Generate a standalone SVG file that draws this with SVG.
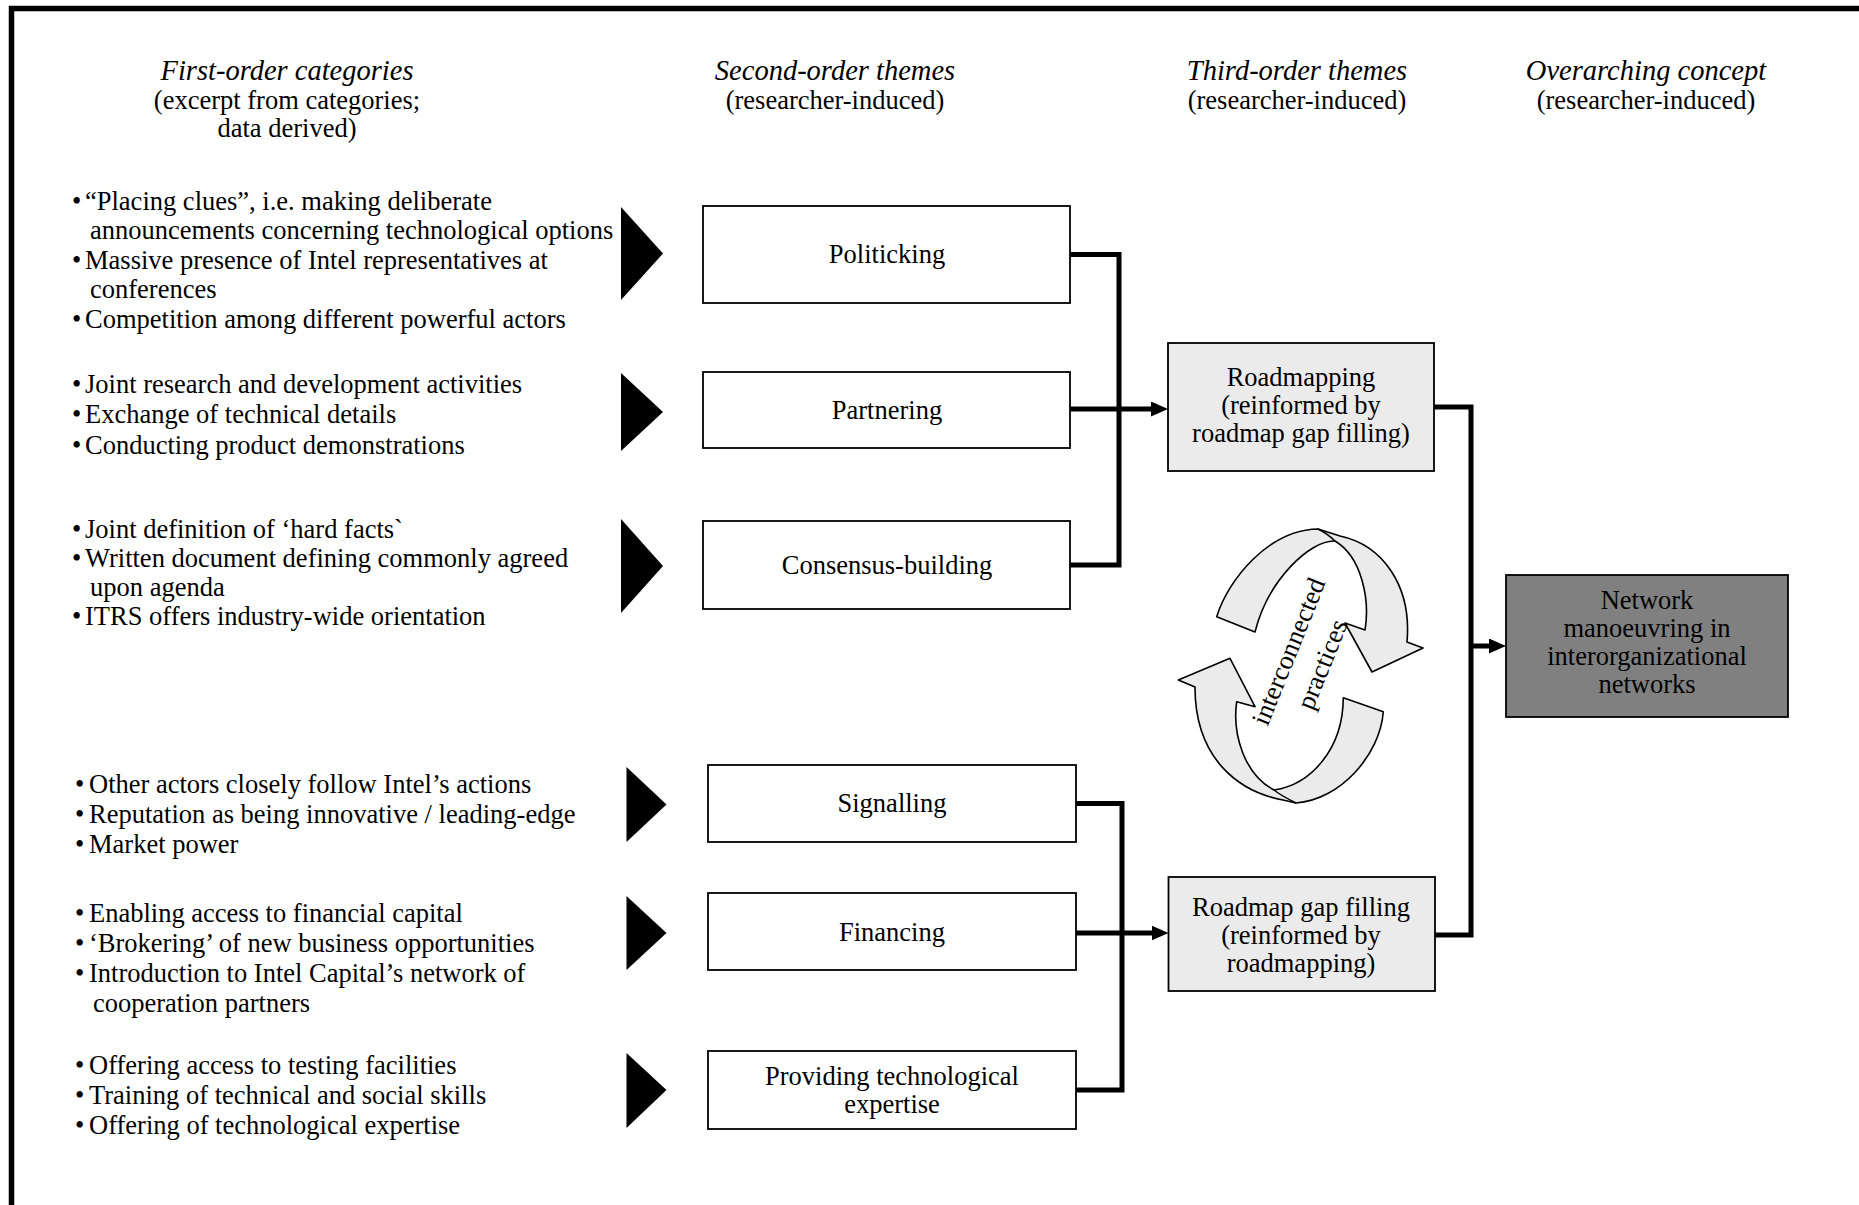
<svg xmlns="http://www.w3.org/2000/svg" width="1859" height="1205" viewBox="0 0 1859 1205">
<style>
.t{font-family:"Liberation Serif","Times New Roman",serif;font-size:26.5px;fill:#000}
.i{font-style:italic;font-size:28.5px}
.c{text-anchor:middle}
.box{fill:#fff;stroke:#000;stroke-width:1.8}
.grey{fill:#ebebeb;stroke:#000;stroke-width:1.8}
.dark{fill:#808080;stroke:#000;stroke-width:1.8}
.conn{fill:none;stroke:#000;stroke-width:5;stroke-linejoin:miter;stroke-linecap:butt}
.tri{fill:#000}
.cyc{fill:#ebebeb;stroke:#000;stroke-width:1.6;stroke-linejoin:round}
.fold{fill:none;stroke:#000;stroke-width:1.4}
</style>
<defs>
<marker id="ah" markerUnits="userSpaceOnUse" markerWidth="18" markerHeight="16" refX="9" refY="7.5" orient="auto">
<path d="M0,0 L17,7.5 L0,15 Z" fill="#000"/>
</marker>
</defs>
<rect width="1859" height="1205" fill="#fff"/>
<path d="M11.5 1210 V8.5 H1865" fill="none" stroke="#000" stroke-width="5.5"/>

<g id="headers">
<text class="t i c" x="287" y="80">First-order categories</text>
<text class="t c" x="287" y="109">(excerpt from categories;</text>
<text class="t c" x="287" y="137">data derived)</text>
<text class="t i c" x="835" y="80">Second-order themes</text>
<text class="t c" x="835" y="109">(researcher-induced)</text>
<text class="t i c" x="1297" y="80">Third-order themes</text>
<text class="t c" x="1297" y="109">(researcher-induced)</text>
<text class="t i c" x="1646" y="80">Overarching concept</text>
<text class="t c" x="1646" y="109">(researcher-induced)</text>
</g>

<g id="cat-politicking">
<text class="t" x="72" y="210">•</text><text class="t" x="85" y="210">“Placing clues”, i.e. making deliberate</text>
<text class="t" x="90" y="239">announcements concerning technological options</text>
<text class="t" x="72" y="268.5">•</text><text class="t" x="85" y="268.5">Massive presence of Intel representatives at</text>
<text class="t" x="90" y="298">conferences</text>
<text class="t" x="72" y="328">•</text><text class="t" x="85" y="328">Competition among different powerful actors</text>
<path class="tri" d="M621 207 L663 253.5 L621 300 Z"/>
</g>
<g id="cat-partnering">
<text class="t" x="72" y="393">•</text><text class="t" x="85" y="393">Joint research and development activities</text>
<text class="t" x="72" y="423">•</text><text class="t" x="85" y="423">Exchange of technical details</text>
<text class="t" x="72" y="454">•</text><text class="t" x="85" y="454">Conducting product demonstrations</text>
<path class="tri" d="M621 373 L663 412 L621 451 Z"/>
</g>
<g id="cat-consensus">
<text class="t" x="72" y="538">•</text><text class="t" x="85" y="538">Joint definition of ‘hard facts`</text>
<text class="t" x="72" y="567">•</text><text class="t" x="85" y="567">Written document defining commonly agreed</text>
<text class="t" x="90" y="596">upon agenda</text>
<text class="t" x="72" y="625">•</text><text class="t" x="85" y="625">ITRS offers industry-wide orientation</text>
<path class="tri" d="M621 519 L663 566 L621 613 Z"/>
</g>
<g id="cat-signalling">
<text class="t" x="75" y="793">•</text><text class="t" x="89" y="793">Other actors closely follow Intel’s actions</text>
<text class="t" x="75" y="823">•</text><text class="t" x="89" y="823">Reputation as being innovative / leading-edge</text>
<text class="t" x="75" y="853">•</text><text class="t" x="89" y="853">Market power</text>
<path class="tri" d="M626.5 767 L666.5 804.5 L626.5 842 Z"/>
</g>
<g id="cat-financing">
<text class="t" x="75" y="922">•</text><text class="t" x="89" y="922">Enabling access to financial capital</text>
<text class="t" x="75" y="952">•</text><text class="t" x="89" y="952">‘Brokering’ of new business opportunities</text>
<text class="t" x="75" y="982">•</text><text class="t" x="89" y="982">Introduction to Intel Capital’s network of</text>
<text class="t" x="93" y="1012">cooperation partners</text>
<path class="tri" d="M626.5 896 L666.5 933 L626.5 970 Z"/>
</g>
<g id="cat-expertise">
<text class="t" x="75" y="1074">•</text><text class="t" x="89" y="1074">Offering access to testing facilities</text>
<text class="t" x="75" y="1104">•</text><text class="t" x="89" y="1104">Training of technical and social skills</text>
<text class="t" x="75" y="1134">•</text><text class="t" x="89" y="1134">Offering of technological expertise</text>
<path class="tri" d="M626.5 1053 L666.5 1090 L626.5 1128 Z"/>
</g>

<g id="connectors">
<path class="conn" d="M1070 254.5 H1119 V565 H1070"/>
<path class="conn" d="M1070 409 H1160" marker-end="url(#ah)"/>
<path class="conn" d="M1076 803.5 H1122 V1090 H1076"/>
<path class="conn" d="M1076 933 H1160.5" marker-end="url(#ah)"/>
<path class="conn" d="M1434 407 H1471 V935 H1435"/>
<path class="conn" d="M1471 646 H1498" marker-end="url(#ah)"/>
</g>

<g id="politicking"><rect class="box" x="703" y="206" width="367" height="97"/><text class="t c" x="887" y="263">Politicking</text></g>
<g id="partnering"><rect class="box" x="703" y="372" width="367" height="76"/><text class="t c" x="887" y="419">Partnering</text></g>
<g id="consensus-building"><rect class="box" x="703" y="521" width="367" height="88"/><text class="t c" x="887" y="574">Consensus-building</text></g>
<g id="signalling"><rect class="box" x="708" y="765" width="368" height="77"/><text class="t c" x="892" y="812">Signalling</text></g>
<g id="financing"><rect class="box" x="708" y="893" width="368" height="77"/><text class="t c" x="892" y="941">Financing</text></g>
<g id="providing-expertise"><rect class="box" x="708" y="1051" width="368" height="78"/><text class="t c" x="892" y="1085">Providing technological</text><text class="t c" x="892" y="1113">expertise</text></g>

<g id="roadmapping"><rect class="grey" x="1168" y="343" width="266" height="128"/>
<text class="t c" x="1301" y="386">Roadmapping</text>
<text class="t c" x="1301" y="414">(reinformed by</text>
<text class="t c" x="1301" y="442">roadmap gap filling)</text></g>
<g id="roadmap-gap-filling"><rect class="grey" x="1168.5" y="877" width="266.5" height="114"/>
<text class="t c" x="1301" y="916">Roadmap gap filling</text>
<text class="t c" x="1301" y="944">(reinformed by</text>
<text class="t c" x="1301" y="972">roadmapping)</text></g>
<g id="network-manoeuvring"><rect class="dark" x="1506" y="575" width="282" height="142"/>
<text class="t c" x="1647" y="609">Network</text>
<text class="t c" x="1647" y="637">manoeuvring in</text>
<text class="t c" x="1647" y="665">interorganizational</text>
<text class="t c" x="1647" y="693">networks</text></g>

<g id="interconnected-practices">
<path class="cyc" d="M1216.7 616.7 C1228 580 1268 530 1318 529 L1340 536 C1382 545 1412 585 1407 642 L1423 648 L1372 672 L1345 623 L1365 630 C1370 600 1362 557 1335 541 C1310 540 1268 580 1255 632 Z"/>
<path class="fold" d="M1318 529 C1326 533 1331 537 1335 541"/>
<path class="cyc" d="M1383.3 711.7 C1380 755 1340 800 1296 803 L1283 800 C1240 792 1195 760 1195 687 L1178.3 680 L1230 658.3 L1255 706.7 L1236.7 701.7 C1232 735 1245 775 1274 790 C1310 785 1343 750 1343.3 697.7 Z"/>
<path class="fold" d="M1274 790 C1280 795 1290 800 1296 803"/>
<text class="t c" transform="translate(1296.6 654.8) rotate(-68)">interconnected</text>
<text class="t c" transform="translate(1330.2 667.6) rotate(-68)">practices</text>
</g>
</svg>
